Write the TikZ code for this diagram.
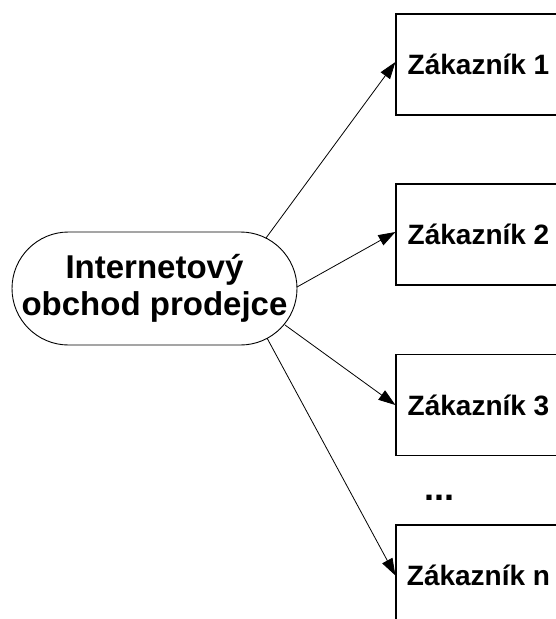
\documentclass[tikz,border=0pt]{standalone}
\usepackage{fontspec}
\setmainfont{Liberation Sans}
\usetikzlibrary{arrows.meta}
\begin{document}
\begin{tikzpicture}[x=1pt,y=-1pt,
  shop/.style={draw, line width=0.9pt, rounded corners=56.5pt,
    minimum width=285pt, minimum height=113pt, inner sep=0pt,
    align=center, font=\fontsize{33}{37.5}\selectfont\bfseries},
  customer/.style={draw, line width=1.2pt, minimum width=165pt,
    minimum height=101pt, inner sep=0pt,
    font=\fontsize{28}{32}\selectfont\bfseries},
  link/.style={line width=0.8pt, -{Triangle[length=17pt,width=11.5pt]}}]
\clip (0,0) rectangle (556,619);
\fill[white] (0,0) rectangle (556,619);

\node[shop] (shop) at (154.5,288.5) {Internetový\\obchod prodejce};

\node[customer] (c1) at (478.5,64.5)  {Zákazník 1};
\node[customer] (c2) at (478.5,234.5) {Zákazník 2};
\node[customer] (c3) at (478.5,405)   {Zákazník 3};
\node[customer] (cn) at (478.5,575.5) {Zákazník n};
\node[anchor=base, font=\fontsize{36}{40}\selectfont\bfseries] (dots) at (439,500) {...};

% start points on the right arc of the shop outline
\coordinate (s1) at (266,238);
\coordinate (s2) at (297,287);
\coordinate (s3) at (285,325);
\coordinate (sn) at (267,338);

\draw[link] (s1) -- ([yshift=2.5pt]c1.west);
\draw[link] (s2) -- ([yshift=2.5pt]c2.west);
\draw[link] (s3) -- (c3.west);
\draw[link] (sn) -- (cn.west);
\end{tikzpicture}
\end{document}
